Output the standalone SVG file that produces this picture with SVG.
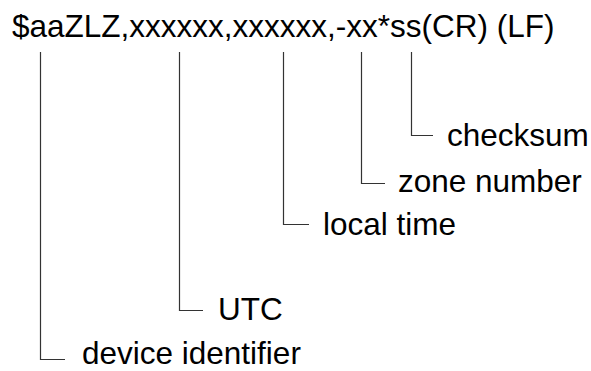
<svg xmlns="http://www.w3.org/2000/svg" width="591" height="371" viewBox="0 0 591 371">
<style>
  text { font-family: "Liberation Sans", Arial, sans-serif; font-size: 31.5px; fill: #000; }
  .conn path { fill: none; stroke: #333; stroke-width: 1.2; }
</style>
<rect width="591" height="371" fill="#fff"/>
<g id="sentence"><text x="12" y="37">$aaZLZ,xxxxxx,xxxxxx,-xx*ss(CR) (LF)</text></g>
<g class="conn" id="connectors">
  <path d="M40.5 52 V359.5 H65"/>
  <path d="M179.5 52 V310.5 H203"/>
  <path d="M283.5 52 V224.5 H309"/>
  <path d="M361.5 52 V183.5 H385"/>
  <path d="M411.5 52 V135.5 H433"/>
</g>
<g id="checksum"><text x="447" y="146">checksum</text></g>
<g id="zone-number"><text x="398" y="192">zone number</text></g>
<g id="local-time"><text x="323" y="235">local time</text></g>
<g id="utc"><text x="218" y="320">UTC</text></g>
<g id="device-identifier"><text x="82" y="364">device identifier</text></g>
</svg>
